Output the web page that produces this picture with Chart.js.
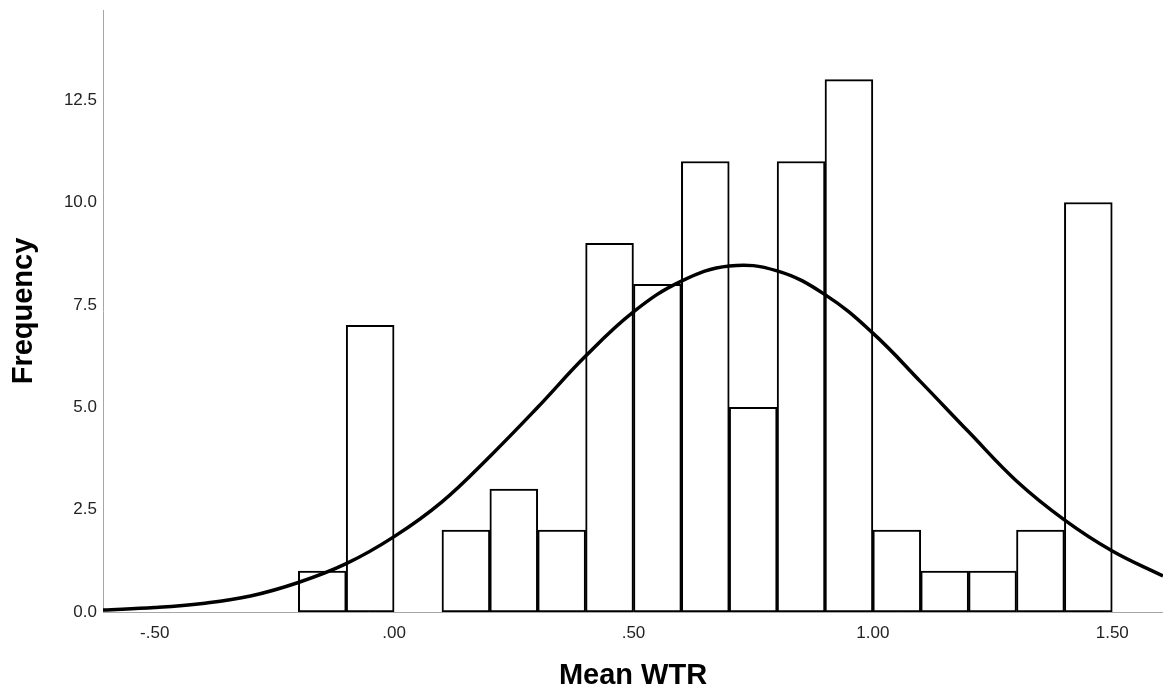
<!DOCTYPE html>
<html>
<head>
<meta charset="utf-8">
<script src="https://cdn.jsdelivr.net/npm/chart.js@4.4.0/dist/chart.umd.min.js"></script>
<style>
  html, body { margin: 0; padding: 0; background: #fff; }
  #wrap { width: 1163px; height: 693px; position: relative; }
</style>
</head>
<body>
<div id="wrap"><canvas id="histChart"></canvas></div>
<script>
// histogram bins (centre of each .10 wide bin) and counts
const binCenters = [-0.15, -0.05, 0.15, 0.25, 0.35, 0.45, 0.55, 0.65, 0.75, 0.85, 0.95, 1.05, 1.15, 1.25, 1.35, 1.45]
const frequencies = [1, 7, 2, 3, 2, 9, 8, 11, 5, 11, 13, 2, 1, 1, 2, 10]

// normal curve
const curveX = [-0.608, -0.5, -0.4, -0.3, -0.2, -0.1, 0, 0.1, 0.2, 0.3, 0.4, 0.5, 0.6, 0.7, 0.8, 0.9, 1.0, 1.1, 1.2, 1.3, 1.4, 1.5, 1.606]
const curveY = [0.05, 0.11, 0.21, 0.39, 0.72, 1.18, 1.84, 2.69, 3.80, 5.00, 6.25, 7.33, 8.08, 8.45, 8.33, 7.75, 6.81, 5.62, 4.40, 3.20, 2.25, 1.49, 0.88]

const xTickValues = [-0.5, 0, 0.5, 1.0, 1.5]
const xTickLabels = ['-.50', '.00', '.50', '1.00', '1.50']
const yTickValues = [0, 2.5, 5, 7.5, 10, 12.5]
const yTickLabels = ['0.0', '2.5', '5.0', '7.5', '10.0', '12.5']

const FONT = "'Liberation Sans', Arial, Helvetica, sans-serif"

const barData = binCenters.map((c, i) => ({ x: c, y: frequencies[i] }))
const curveData = curveX.map((x, i) => ({ x: x, y: curveY[i] }))

new Chart(document.getElementById('histChart'), {
    data: {
        datasets: [
            {
                type: 'line',
                label: 'Normal',
                data: curveData,
                borderColor: '#000',
                borderWidth: 3.5,
                pointRadius: 0,
                tension: 0.4,
                fill: false,
                order: 0
            },
            {
                type: 'bar',
                label: 'Frequency',
                data: barData,
                backgroundColor: '#fff',
                borderColor: '#000',
                borderWidth: 2,
                borderSkipped: false,
                barPercentage: 1.0,
                categoryPercentage: 1.0,
                order: 1
            }
        ]
    },
    options: {
        responsive: true,
        maintainAspectRatio: false,
        animation: false,
        layout: { padding: { top: 10, right: 0, left: 0, bottom: 0 } },
        plugins: {
            legend: { display: false },
            tooltip: { enabled: false }
        },
        scales: {
            x: {
                type: 'linear',
                offset: false,
                min: -0.608,
                max: 1.606,
                afterBuildTicks: (axis) => { axis.ticks = xTickValues.map(v => ({ value: v })) },
                afterFit: (axis) => { axis.height = 81 },
                grid: { display: false, drawTicks: false },
                border: { display: true, color: '#a6a6a6', width: 1 },
                ticks: {
                    autoSkip: false,
                    maxRotation: 0,
                    padding: 11,
                    color: '#222',
                    font: { family: FONT, size: 17 },
                    callback: (value) => {
                        const idx = xTickValues.findIndex(v => Math.abs(v - value) < 1e-9)
                        return idx >= 0 ? xTickLabels[idx] : ''
                    }
                },
                title: {
                    display: true,
                    text: 'Mean WTR',
                    color: '#000',
                    padding: { top: 0, bottom: 0 },
                    font: { family: FONT, size: 29, weight: 'bold' }
                }
            },
            y: {
                min: 0,
                max: 14.7,
                afterBuildTicks: (axis) => { axis.ticks = yTickValues.map(v => ({ value: v })) },
                afterFit: (axis) => {
                    axis.width = 103
                    axis.paddingTop = 0
                    axis.paddingBottom = 0
                },
                grid: { display: false, drawTicks: false },
                border: { display: true, color: '#a6a6a6', width: 1 },
                ticks: {
                    padding: 6,
                    color: '#222',
                    font: { family: FONT, size: 17 },
                    callback: (value) => {
                        const idx = yTickValues.findIndex(v => Math.abs(v - value) < 1e-9)
                        return idx >= 0 ? yTickLabels[idx] : ''
                    }
                },
                title: {
                    display: true,
                    text: 'Frequency',
                    color: '#000',
                    padding: { top: 7, bottom: 0 },
                    font: { family: FONT, size: 29, weight: 'bold' }
                }
            }
        }
    }
})
</script>
</body>
</html>
